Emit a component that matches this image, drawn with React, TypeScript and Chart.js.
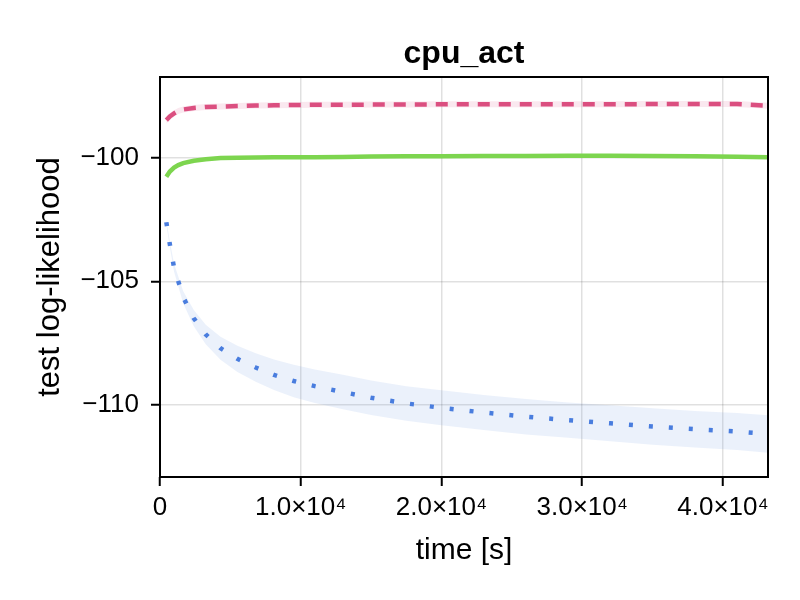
import React, { useEffect, useRef } from 'react';
import { Chart, registerables, Plugin } from 'chart.js';

Chart.register(...registerables);

// evaluation times [s]
const times = [450, 700, 1000, 1300, 1650, 2400, 3250, 4300, 5500, 6800, 8100, 9500, 11000, 13000, 15000, 17500, 20000, 23000, 26000, 29000, 32000, 35000, 38000, 41000, 43200];

// pink dashed
const pinkMean = [-98.45, -98.3, -98.18, -98.08, -98.02, -97.96, -97.92, -97.9, -97.88, -97.86, -97.85, -97.84, -97.83, -97.83, -97.82, -97.82, -97.81, -97.81, -97.81, -97.81, -97.81, -97.8, -97.8, -97.8, -97.87];
const pinkUpper = [-98.3, -98.16, -98.05, -97.96, -97.9, -97.84, -97.8, -97.78, -97.76, -97.74, -97.73, -97.72, -97.71, -97.71, -97.7, -97.7, -97.69, -97.69, -97.69, -97.69, -97.69, -97.68, -97.68, -97.68, -97.75];
const pinkLower = [-98.6, -98.44, -98.31, -98.2, -98.14, -98.08, -98.04, -98.02, -98.0, -97.98, -97.97, -97.96, -97.95, -97.95, -97.94, -97.94, -97.93, -97.93, -97.93, -97.93, -97.93, -97.92, -97.92, -97.92, -97.99];

// green solid
const greenMean = [-100.75, -100.54, -100.38, -100.28, -100.2, -100.1, -100.04, -99.99, -99.98, -99.97, -99.96, -99.96, -99.96, -99.95, -99.93, -99.92, -99.92, -99.91, -99.91, -99.9, -99.9, -99.91, -99.92, -99.94, -99.96];
const greenUpper = [-100.69, -100.49, -100.33, -100.23, -100.15, -100.05, -99.99, -99.94, -99.93, -99.92, -99.91, -99.91, -99.91, -99.9, -99.88, -99.87, -99.87, -99.86, -99.86, -99.85, -99.85, -99.86, -99.87, -99.89, -99.91];
const greenLower = [-100.81, -100.59, -100.43, -100.33, -100.25, -100.15, -100.09, -100.04, -100.03, -100.02, -100.01, -100.01, -100.01, -100.0, -99.98, -99.97, -99.97, -99.96, -99.96, -99.95, -99.95, -99.96, -99.97, -99.99, -100.01];

// blue dotted
const blueMean = [-102.6, -103.5, -104.45, -105.0, -105.65, -106.5, -107.16, -107.72, -108.15, -108.5, -108.8, -109.05, -109.26, -109.5, -109.73, -109.96, -110.14, -110.33, -110.5, -110.64, -110.77, -110.9, -111.01, -111.1, -111.2];
const blueUpper = [-102.52, -103.38, -104.29, -104.8, -105.4, -106.17, -106.76, -107.25, -107.62, -107.92, -108.18, -108.39, -108.58, -108.8, -109.03, -109.26, -109.43, -109.62, -109.78, -109.92, -110.04, -110.16, -110.27, -110.35, -110.44];
const blueLower = [-102.68, -103.62, -104.61, -105.2, -105.9, -106.83, -107.56, -108.19, -108.68, -109.08, -109.42, -109.71, -109.94, -110.2, -110.43, -110.66, -110.85, -111.04, -111.22, -111.36, -111.5, -111.64, -111.75, -111.85, -111.96];

const xTicks = [0, 10000, 20000, 30000, 40000];
const xTickLabels = ['0', '1.0×10⁴', '2.0×10⁴', '3.0×10⁴', '4.0×10⁴'];
const yTicks = [-110, -105, -100];
const yTickLabels = ['−110', '−105', '−100'];

const PINK = '#dc5080';
const GREEN = '#7dd54f';
const BLUE = '#4a7ddf';
const FONT = '"Liberation Sans", Arial, sans-serif';

const pts = (ys: number[]) => ys.map((y, i) => ({ x: times[i], y }));

const band = (upper: number[], lower: number[], color: string) => [
  { data: pts(upper), borderWidth: 0, pointRadius: 0, fill: '+1', backgroundColor: color },
  { data: pts(lower), borderWidth: 0, pointRadius: 0, fill: false },
];

const framePlugin: Plugin = {
  id: 'frame',
  afterDraw(chart) {
    const { ctx, chartArea } = chart;
    ctx.save();
    ctx.strokeStyle = '#000';
    ctx.lineWidth = 2;
    ctx.strokeRect(chartArea.left, chartArea.top, chartArea.right - chartArea.left, chartArea.bottom - chartArea.top);
    ctx.fillStyle = '#000';
    ctx.font = `bold 32px ${FONT}`;
    ctx.textAlign = 'center';
    ctx.textBaseline = 'middle';
    ctx.fillText('cpu_act', (chartArea.left + chartArea.right) / 2, 54);
    ctx.restore();
  },
};

const App: React.FC = () => {
  const canvasRef = useRef<HTMLCanvasElement>(null);
  const chartRef = useRef<Chart | null>(null);

  useEffect(() => {
    if (!canvasRef.current) return;
    if (chartRef.current) chartRef.current.destroy();

    chartRef.current = new Chart(canvasRef.current, {
      type: 'line',
      data: {
        datasets: [
          ...band(blueUpper, blueLower, 'rgba(74,125,223,0.11)'),
          ...band(pinkUpper, pinkLower, 'rgba(220,80,128,0.13)'),
          ...band(greenUpper, greenLower, 'rgba(125,213,79,0.15)'),
          { data: pts(blueMean), borderColor: BLUE, borderWidth: 4.5, borderDash: [4, 16], pointRadius: 0, fill: false },
          { data: pts(greenMean), borderColor: GREEN, borderWidth: 4.5, pointRadius: 0, fill: false },
          { data: pts(pinkMean), borderColor: PINK, borderWidth: 4.5, borderDash: [12, 9], pointRadius: 0, fill: false },
        ] as any,
      },
      options: {
        responsive: false,
        animation: false,
        layout: { padding: { left: 0, right: 32, top: 77, bottom: 0 } },
        plugins: { legend: { display: false }, tooltip: { enabled: false } },
        scales: {
          x: {
            type: 'linear',
            min: 0,
            max: 43200,
            afterFit: (s: any) => { s.height = 123; },
            afterBuildTicks: (s: any) => { s.ticks = xTicks.map(v => ({ value: v })); },
            border: { display: false },
            grid: { color: 'rgba(0,0,0,0.12)', lineWidth: 1.5, tickLength: 9, tickColor: '#000', tickWidth: 2 },
            ticks: {
              color: '#000',
              font: { family: FONT, size: 26 },
              padding: 6,
              maxRotation: 0,
              callback: (v: any) => xTickLabels[xTicks.indexOf(Number(v))] ?? '',
            },
            title: { display: true, text: 'time [s]', color: '#000', font: { family: FONT, size: 30 }, padding: { top: 0, bottom: 31 } },
          },
          y: {
            type: 'linear',
            min: -112.95,
            max: -96.7,
            afterFit: (s: any) => { s.width = 160; },
            afterBuildTicks: (s: any) => { s.ticks = yTicks.map(v => ({ value: v })); },
            border: { display: false },
            grid: { color: 'rgba(0,0,0,0.12)', lineWidth: 1.5, tickLength: 9, tickColor: '#000', tickWidth: 2 },
            ticks: {
              color: '#000',
              font: { family: FONT, size: 26 },
              padding: 12,
              callback: (v: any) => yTickLabels[yTicks.indexOf(Number(v))] ?? '',
            },
            title: { display: true, text: 'test log-likelihood', color: '#000', font: { family: FONT, size: 31 }, padding: { top: 32, bottom: 0 } },
          },
        },
      },
      plugins: [framePlugin],
    });

    return () => {
      if (chartRef.current) {
        chartRef.current.destroy();
        chartRef.current = null;
      }
    };
  }, []);

  return (
    <div style={{ position: 'absolute', left: 0, top: 0, width: 800, height: 600, background: '#fff' }}>
      <canvas ref={canvasRef} width={800} height={600}></canvas>
    </div>
  );
};

export default App;
